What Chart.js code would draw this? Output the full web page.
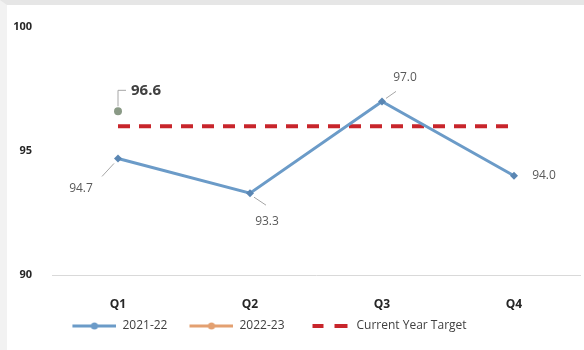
<!DOCTYPE html>
<html>
<head>
<meta charset="utf-8">
<script src="https://cdn.jsdelivr.net/npm/chart.js@4/dist/chart.umd.min.js"></script>
<style>
  html, body { margin: 0; padding: 0; background: #fff; }
  #wrap { position: relative; width: 584px; height: 350px; box-sizing: border-box;
          border-top: 5px solid #e6e6e6; border-left: 7px solid #f2f2f2; }
  canvas { display: block; }
</style>
</head>
<body>
<div id="wrap"><canvas id="c" width="577" height="345"></canvas></div>
<script>
// Quarterly performance against the current year target
const categories = ['Q1', 'Q2', 'Q3', 'Q4'];
const series2021 = [94.7, 93.3, 97.0, 94.0];
const series2022 = [96.6, null, null, null];
const targetValues = [96, 96, 96, 96];
const yTicks = [90, 95, 100];

const FONT = "'Open Sans', 'DejaVu Sans', sans-serif";

// small canvases used as legend symbols (lead = blank space before the symbol)
function lineMarkerIcon(color, lead) {
  const c = document.createElement('canvas');
  c.width = 44 + lead; c.height = 10;
  const g = c.getContext('2d');
  g.strokeStyle = color; g.lineWidth = 3;
  g.beginPath(); g.moveTo(lead, 5); g.lineTo(lead + 44, 5); g.stroke();
  g.fillStyle = color;
  g.beginPath(); g.arc(lead + 22, 5, 3.5, 0, Math.PI * 2); g.fill();
  return c;
}
function dashIcon(color, lead) {
  const c = document.createElement('canvas');
  c.width = 40 + lead; c.height = 10;
  const g = c.getContext('2d');
  g.fillStyle = color;
  g.fillRect(lead + 2, 3, 11, 4);
  g.fillRect(lead + 24, 3, 13, 4);
  return c;
}

// value labels with short leader lines
const valueLabels = {
  id: 'valueLabels',
  afterDatasetsDraw(chart) {
    const ctx = chart.ctx;
    const specs = [
      { ds: 0, style: [
        { dx: -37, dy: 30, lx1: -4, ly1: 5, lx2: -16, ly2: 18 },
        { dx: 17, dy: 28, lx1: 4, ly1: 4, lx2: 16, ly2: 12 },
        { dx: 23, dy: -24, lx1: 4, ly1: -3, lx2: 14, ly2: -10 },
        { dx: 30, dy: 0 }
      ], font: '12px ' + FONT, color: '#595959' },
      { ds: 1, style: [
        { dx: 28, dy: -21, lx1: 0, ly1: -5, lx2: 0, ly2: -21, lx3: 8, ly3: -21 }
      ], font: 'bold 15px ' + FONT, color: '#404040' }
    ];
    specs.forEach(s => {
      const meta = chart.getDatasetMeta(s.ds);
      const data = chart.data.datasets[s.ds].data;
      meta.data.forEach((pt, i) => {
        const v = data[i];
        if (v === null || v === undefined || !s.style[i]) return;
        const st = s.style[i];
        ctx.save();
        ctx.strokeStyle = '#a6a6a6';
        ctx.lineWidth = 1;
        if (st.lx1 !== undefined) {
          ctx.beginPath();
          ctx.moveTo(pt.x + st.lx1, pt.y + st.ly1);
          ctx.lineTo(pt.x + st.lx2, pt.y + st.ly2);
          if (st.lx3 !== undefined) ctx.lineTo(pt.x + st.lx3, pt.y + st.ly3);
          ctx.stroke();
        }
        ctx.font = s.font;
        ctx.fillStyle = s.color;
        ctx.textAlign = 'center';
        ctx.textBaseline = 'middle';
        ctx.fillText(v.toFixed(1), pt.x + st.dx, pt.y + st.dy);
        ctx.restore();
      });
    });
  }
};

// the legend row sits a little left of centre
const legendShift = {
  id: 'legendShift',
  afterLayout(chart) {
    if (chart.legend) { chart.legend.left -= 32; chart.legend.right -= 32; }
  }
};

new Chart(document.getElementById('c'), {
  type: 'line',
  data: {
    labels: categories,
    datasets: [
      {
        label: '2021-22',
        data: series2021,
        borderColor: '#6b9bc8',
        backgroundColor: '#5a86b3',
        borderWidth: 3,
        pointRadius: 4,
        pointStyle: 'rectRot',
        pointBorderWidth: 0,
        tension: 0,
        order: 1
      },
      {
        label: '2022-23',
        data: series2022,
        borderColor: '#e3a071',
        backgroundColor: '#8a9a86',
        borderWidth: 3,
        pointRadius: 4,
        pointBorderWidth: 0,
        order: 0
      },
      {
        label: 'Current Year Target',
        data: targetValues,
        borderColor: '#c8252b',
        borderWidth: 4,
        borderDash: [12, 9],
        pointRadius: 0,
        order: 2
      }
    ]
  },
  options: {
    responsive: false,
    animation: false,
    layout: { padding: { top: 22, right: 0, left: 0, bottom: 8 } },
    plugins: {
      tooltip: { enabled: false },
      legend: {
        position: 'bottom',
        labels: {
          usePointStyle: true,
          pointStyleWidth: 56,
          font: { family: FONT, size: 12 },
          color: '#404040',
          padding: 10,
          boxHeight: 10,
          generateLabels() {
            return [
              { text: '2021-22', pointStyle: lineMarkerIcon('#6b9bc8', 12), datasetIndex: 0, fontColor: '#404040' },
              { text: '2022-23', pointStyle: lineMarkerIcon('#e3a071', 12), datasetIndex: 1, fontColor: '#404040' },
              { text: 'Current Year Target', pointStyle: dashIcon('#c8252b', 16), datasetIndex: 2, fontColor: '#404040' }
            ];
          }
        }
      }
    },
    scales: {
      x: {
        offset: true,
        afterFit(scale) { scale.height = 35; },
        grid: { display: false },
        border: { display: true, color: '#d9d9d9', width: 1 },
        ticks: { font: { family: FONT, size: 12, weight: 'bold' }, color: '#262626', padding: 14 }
      },
      y: {
        min: 90,
        max: 100,
        afterFit(scale) { scale.width = 45; },
        afterBuildTicks(scale) { scale.ticks = yTicks.map(v => ({ value: v })); },
        grid: { display: false },
        border: { display: false },
        ticks: { font: { family: FONT, size: 11, weight: 'bold' }, color: '#262626', padding: 12 }
      }
    }
  },
  plugins: [valueLabels, legendShift]
});
</script>
</body>
</html>
